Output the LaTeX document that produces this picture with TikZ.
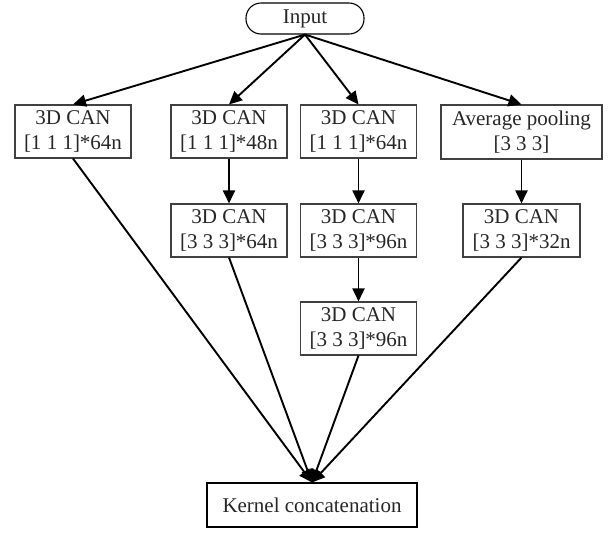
\documentclass[tikz,border=0pt]{standalone}
\usepackage{fontspec}
\setmainfont{Liberation Serif}
\usetikzlibrary{arrows.meta}
\begin{document}
\begin{tikzpicture}[x=1pt,y=-1pt,
  box/.style={draw=black!75,line width=1.1pt,inner sep=0pt,align=center,
    font=\fontsize{21}{25}\selectfont,text=black!85,minimum width=116pt,minimum height=53pt},
  edge/.style={line width=1.9pt,-{Triangle[length=13pt,width=12pt]}}]
\useasboundingbox (0,0) rectangle (609,539);
\node[draw=black,line width=1.1pt,rounded corners=15pt,minimum width=118pt,minimum height=31pt,inner sep=0pt,font=\fontsize{21}{25}\selectfont,text=black!85] (in) at (305,18.5) {Input};
\node[box] (b1) at (73,131.5) {3D CAN\\{[1 1 1]*64n}};
\node[box] (b2) at (229,131.5) {3D CAN\\{[1 1 1]*48n}};
\node[box] (b3) at (358.5,131.5) {3D CAN\\{[1 1 1]*64n}};
\node[box,minimum width=161pt,minimum height=54pt] (b4) at (521.5,132) {Average pooling\\{[3 3 3]}};
\node[box] (b5) at (229,230.5) {3D CAN\\{[3 3 3]*64n}};
\node[box] (b6) at (358.5,230.5) {3D CAN\\{[3 3 3]*96n}};
\node[box,minimum width=117pt] (b7) at (521.5,230.5) {3D CAN\\{[3 3 3]*32n}};
\node[box] (b8) at (358.5,328.5) {3D CAN\\{[3 3 3]*96n}};
\node[box,draw=black,minimum width=210pt,minimum height=44pt] (k) at (312,505) {Kernel concatenation};
\foreach \t in {b1,b2,b3,b4}
  \draw[edge] (in.south) -- (\t.north);
\draw[edge] (b2) -- (b5);
\draw[edge] (b3) -- (b6);
\draw[edge] (b6) -- (b8);
\draw[edge] (b4) -- (b7);
\foreach \s in {b1,b5,b8,b7}
  \draw[edge] (\s.south) -- (k.north);
\end{tikzpicture}
\end{document}
